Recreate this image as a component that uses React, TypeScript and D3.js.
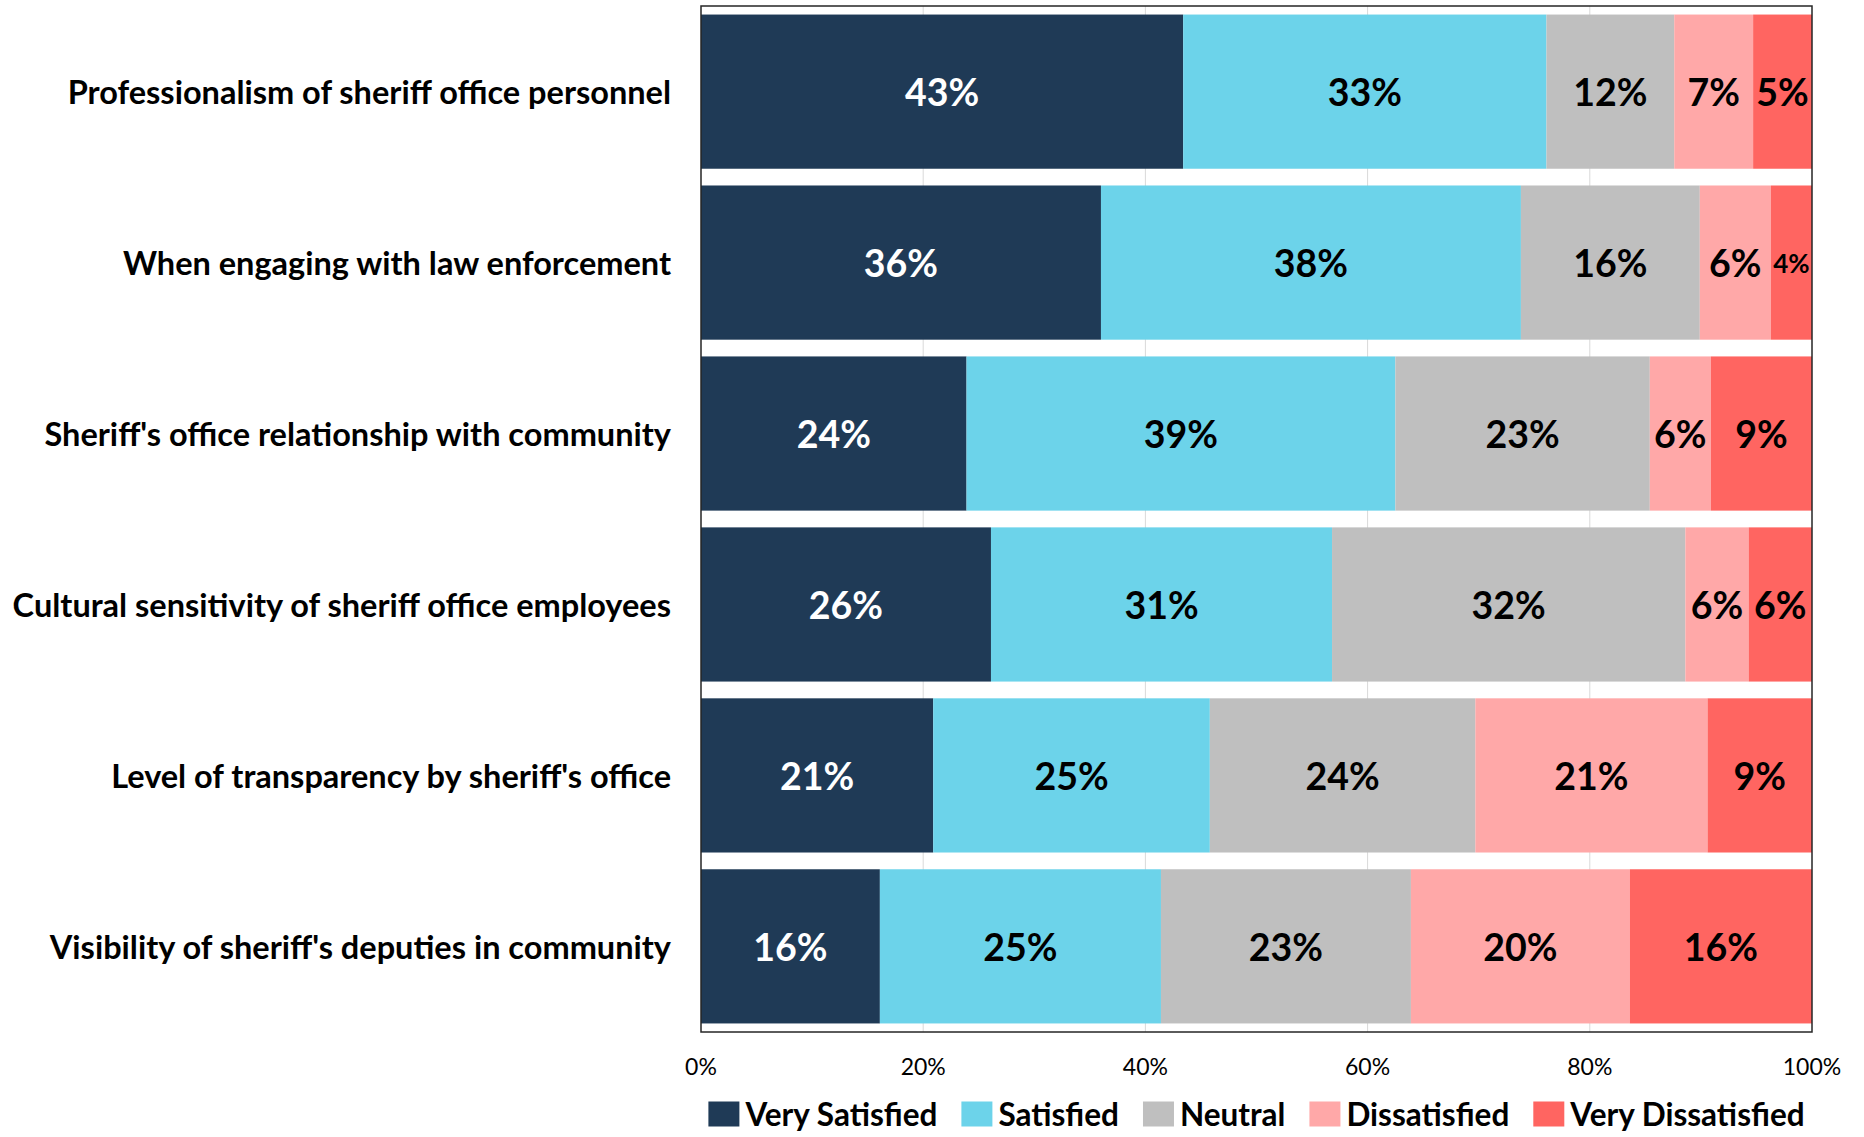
import React, { useEffect, useRef } from "react";
import * as d3 from "d3";

const categories = [
  "Professionalism of sheriff office personnel",
  "When engaging with law enforcement",
  "Sheriff's office relationship with community",
  "Cultural sensitivity of sheriff office employees",
  "Level of transparency by sheriff's office",
  "Visibility of sheriff's deputies in community",
];

const seriesNames = ["Very Satisfied", "Satisfied", "Neutral", "Dissatisfied", "Very Dissatisfied"];

const verySatisfied = [43.4, 36.0, 23.9, 26.1, 20.9, 16.1];
const satisfied = [32.7, 37.8, 38.6, 30.7, 24.9, 25.3];
const neutral = [11.5, 16.1, 22.9, 31.8, 23.9, 22.5];
const dissatisfied = [7.1, 6.4, 5.5, 5.7, 20.9, 19.7];
const veryDissatisfied = [5.3, 3.7, 9.1, 5.7, 9.4, 16.4];

const labelValues = [
  [43, 33, 12, 7, 5],
  [36, 38, 16, 6, 4],
  [24, 39, 23, 6, 9],
  [26, 31, 32, 6, 6],
  [21, 25, 24, 21, 9],
  [16, 25, 23, 20, 16],
];

const xTicks = [0, 20, 40, 60, 80, 100];

const colors = ["#1F3A56", "#6CD3EA", "#BFBFBF", "#FFA8A8", "#FF6561"];
const textColors = ["#FFFFFF", "#000000", "#000000", "#000000", "#000000"];

const FONT = "Lato, 'Open Sans', sans-serif";

export default function App() {
  const ref = useRef<SVGSVGElement>(null);

  useEffect(() => {
    const svg = d3.select(ref.current);
    svg.selectAll("*").remove();

    const left = 701, right = 1812, top = 6, bottom = 1032;

    const x = d3.scaleLinear().domain([0, 100]).range([left, right]);
    const y = d3.scaleBand<string>().domain(categories).range([top, bottom]).paddingInner(0.098).paddingOuter(0.05);

    const series = [verySatisfied, satisfied, neutral, dissatisfied, veryDissatisfied];
    const rows = categories.map((c, i) => {
      const o: any = { cat: c };
      seriesNames.forEach((s, j) => (o[s] = series[j][i]));
      return o;
    });
    const stack = d3.stack<any>().keys(seriesNames)(rows);

    // gridlines
    svg.append("g")
      .selectAll("line")
      .data(xTicks.slice(1, -1))
      .join("line")
      .attr("x1", (d) => x(d)).attr("x2", (d) => x(d))
      .attr("y1", top).attr("y2", bottom)
      .attr("stroke", "#D9D9D9").attr("stroke-width", 1);

    // bars
    const gBars = svg.append("g");
    stack.forEach((layer, j) => {
      gBars.append("g")
        .attr("fill", colors[j])
        .selectAll("rect")
        .data(layer)
        .join("rect")
        .attr("x", (d) => x(d[0]))
        .attr("width", (d) => x(d[1]) - x(d[0]))
        .attr("y", (d) => y(d.data.cat)!)
        .attr("height", y.bandwidth());
    });

    // data labels
    const LS = 37.5;
    const gLab = svg.append("g").attr("font-family", FONT).attr("font-weight", 700);
    stack.forEach((layer, j) => {
      layer.forEach((d, i) => {
        const cx = (x(d[0]) + x(d[1])) / 2;
        const cy = y(d.data.cat)! + y.bandwidth() / 2;
        const segW = x(d[1]) - x(d[0]);
        const t = gLab.append("text")
          .attr("x", cx).attr("y", cy)
          .attr("text-anchor", "middle")
          .attr("dominant-baseline", "central")
          .attr("font-size", LS)
          .attr("fill", textColors[j])
          .text(`${labelValues[i][j]}%`);
        const len = (t.node() as SVGTextElement).getComputedTextLength();
        if (len > segW - 4) {
          t.attr("font-size", Math.floor(LS * (segW - 4) / len));
        }
      });
    });

    // plot border
    svg.append("rect")
      .attr("x", left).attr("y", top)
      .attr("width", right - left).attr("height", bottom - top)
      .attr("fill", "none").attr("stroke", "#262626").attr("stroke-width", 1.5);

    // category labels
    svg.append("g")
      .attr("font-family", FONT).attr("font-weight", 700).attr("font-size", 32.5)
      .selectAll("text")
      .data(categories)
      .join("text")
      .attr("x", 671)
      .attr("y", (d) => y(d)! + y.bandwidth() / 2)
      .attr("text-anchor", "end")
      .attr("dominant-baseline", "central")
      .attr("fill", "#000")
      .text((d) => d);

    // x tick labels
    svg.append("g")
      .attr("font-family", FONT).attr("font-size", 23)
      .selectAll("text")
      .data(xTicks)
      .join("text")
      .attr("x", (d) => x(d))
      .attr("y", 1066)
      .attr("text-anchor", "middle")
      .attr("dominant-baseline", "central")
      .attr("fill", "#000")
      .text((d) => `${d}%`);

    // legend
    const lg = svg.append("g").attr("font-family", FONT).attr("font-weight", 700).attr("font-size", 31.5);
    const sw = 31, sh = 25, gapText = 6, gapItem = 24;
    const items = seriesNames.map((n, j) => {
      const g = lg.append("g");
      g.append("rect").attr("width", sw).attr("height", sh).attr("y", -sh / 2).attr("fill", colors[j]);
      const t = g.append("text").attr("x", sw + gapText).attr("dominant-baseline", "central").attr("fill", "#000").text(n);
      const w = sw + gapText + (t.node() as SVGTextElement).getComputedTextLength();
      return { g, w };
    });
    const total = d3.sum(items, (d) => d.w) + gapItem * (items.length - 1);
    let cx = (left + right) / 2 - total / 2;
    items.forEach((it) => {
      it.g.attr("transform", `translate(${cx},1114)`);
      cx += it.w + gapItem;
    });
  }, []);

  return (
    <svg
      ref={ref}
      width={1864}
      height={1137}
      style={{ position: "absolute", left: 0, top: 0, background: "#fff" }}
    />
  );
}
